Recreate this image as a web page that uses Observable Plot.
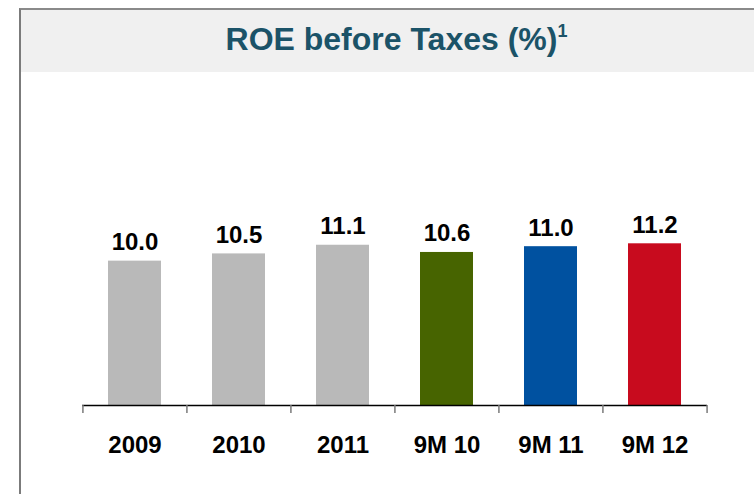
<!DOCTYPE html>
<html>
<head>
<meta charset="utf-8">
<script src="https://cdn.jsdelivr.net/npm/d3@7"></script>
<script src="https://cdn.jsdelivr.net/npm/@observablehq/plot@0.6"></script>
<style>
  html, body { margin: 0; padding: 0; background: #ffffff; }
  #wrap { position: relative; width: 754px; height: 494px; overflow: hidden; font-family: "Liberation Sans", Arial, sans-serif; }
  #frame { position: absolute; left: 19px; top: 8px; right: -4px; bottom: -4px; border-left: 2px solid #7b7b7b; border-top: 2px solid #8a8a8a; pointer-events: none; z-index: 3; }
  #header { position: absolute; left: 21px; top: 10px; width: 733px; height: 62px; background: #f0f0f0; }
  #title { position: absolute; left: 0; top: 0; width: 100%; height: 62px; line-height: 58px; text-align: center; padding-left: 18px; box-sizing: border-box; font-weight: bold; font-size: 32px; color: #1b5368; }
  #title sup { font-size: 18px; vertical-align: 13px; line-height: 0; }
  #chart { position: absolute; left: 0; top: 72px; z-index: 2; }
</style>
</head>
<body>
<div id="wrap">
  <div id="header"><div id="title">ROE before Taxes (%)<sup>1</sup></div></div>
  <div id="chart"></div>
  <div id="frame"></div>
</div>
<script>
const categories = ["2009", "2010", "2011", "9M 10", "9M 11", "9M 12"];
const values = [10.0, 10.5, 11.1, 10.6, 11.0, 11.2];
const barColors = ["#b9b9b9", "#b9b9b9", "#b9b9b9", "#476400", "#0051a0", "#c80b1e"];

const data = categories.map((c, i) => ({category: c, value: values[i], color: barColors[i]}));

const W = 754, H = 422;
const mL = 82, mR = 47, mT = 102, mB = 89;
const step = (W - mL - mR) / categories.length;

const chart = Plot.plot({
  width: W,
  height: H,
  marginLeft: mL,
  marginRight: mR,
  marginTop: mT,
  marginBottom: mB,
  style: {background: "transparent", fontFamily: "Liberation Sans, Arial, sans-serif", overflow: "visible"},
  x: {domain: categories, paddingInner: 0.49, paddingOuter: 0.245, label: null},
  y: {domain: [0, 16], axis: null},
  marks: [
    Plot.barY(data, {x: "category", y: "value", fill: "color"}),
    Plot.ruleY([0], {stroke: "#000000", strokeWidth: 1.5}),
    Plot.ruleX(categories, {x: d => d, dx: -step / 2, y1: 0, y2: 0, insetBottom: -8, stroke: "#7a7a7a", strokeWidth: 1.5}),
    Plot.ruleX(categories.slice(-1), {x: d => d, dx: step / 2, y1: 0, y2: 0, insetBottom: -8, stroke: "#7a7a7a", strokeWidth: 1.5}),
    Plot.text(data, {x: "category", y: "value", text: d => d.value.toFixed(1), dy: -11, lineAnchor: "bottom", fontSize: 24, fontWeight: "bold", fill: "#000000"}),
    Plot.axisX({tickSize: 0, tickPadding: 30, fontSize: 24, fontWeight: "bold", fill: "#000000", label: null})
  ]
});
document.getElementById("chart").appendChild(chart);
</script>
</body>
</html>
